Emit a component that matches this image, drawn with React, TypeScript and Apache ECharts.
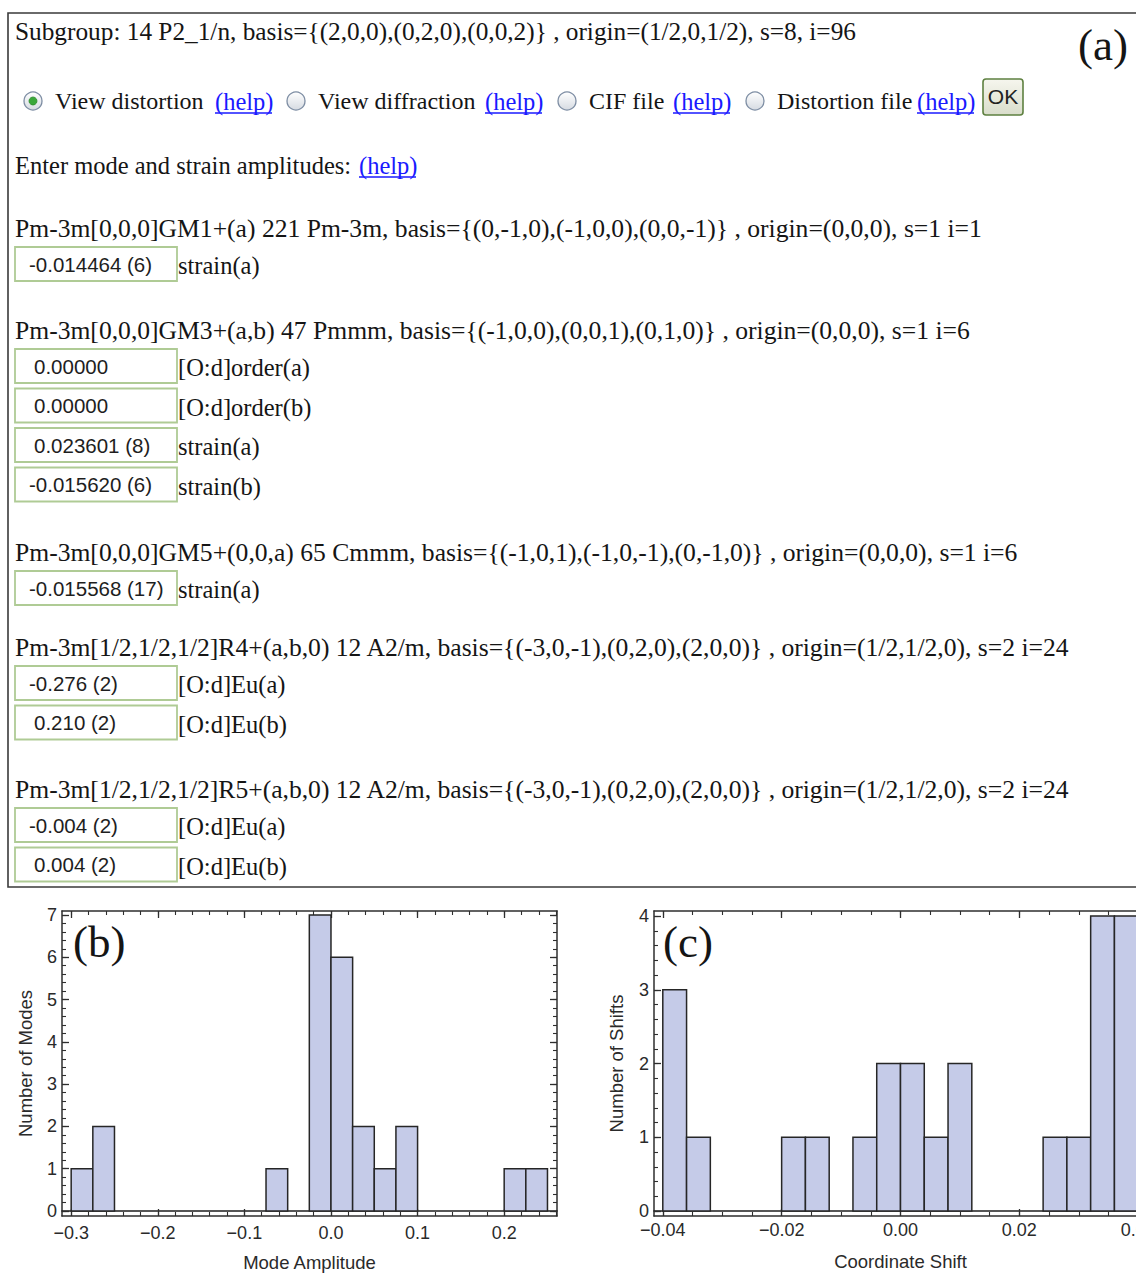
import React, { useEffect, useRef } from "react";
import * as echarts from "echarts";

// ---------------- DATA ----------------
// Panel (a) text content
const subgroupLine =
  "Subgroup: 14 P2_1/n, basis={(2,0,0),(0,2,0),(0,0,2)} , origin=(1/2,0,1/2), s=8, i=96";
const radioOptions = ["View distortion", "View diffraction", "CIF file", "Distortion file"];
const helpText = "(help)";
const enterLine = "Enter mode and strain amplitudes:";
const okText = "OK";
const irrepHeaders = [
  "Pm-3m[0,0,0]GM1+(a) 221 Pm-3m, basis={(0,-1,0),(-1,0,0),(0,0,-1)} , origin=(0,0,0), s=1 i=1",
  "Pm-3m[0,0,0]GM3+(a,b) 47 Pmmm, basis={(-1,0,0),(0,0,1),(0,1,0)} , origin=(0,0,0), s=1 i=6",
  "Pm-3m[0,0,0]GM5+(0,0,a) 65 Cmmm, basis={(-1,0,1),(-1,0,-1),(0,-1,0)} , origin=(0,0,0), s=1 i=6",
  "Pm-3m[1/2,1/2,1/2]R4+(a,b,0) 12 A2/m, basis={(-3,0,-1),(0,2,0),(2,0,0)} , origin=(1/2,1/2,0), s=2 i=24",
  "Pm-3m[1/2,1/2,1/2]R5+(a,b,0) 12 A2/m, basis={(-3,0,-1),(0,2,0),(2,0,0)} , origin=(1/2,1/2,0), s=2 i=24",
];
const irrepFieldValues = [
  ["-0.014464 (6)"],
  ["0.00000", "0.00000", "0.023601 (8)", "-0.015620 (6)"],
  ["-0.015568 (17)"],
  ["-0.276 (2)", "0.210 (2)"],
  ["-0.004 (2)", "0.004 (2)"],
];
const irrepFieldNames = [
  ["strain(a)"],
  ["[O:d]order(a)", "[O:d]order(b)", "strain(a)", "strain(b)"],
  ["strain(a)"],
  ["[O:d]Eu(a)", "[O:d]Eu(b)"],
  ["[O:d]Eu(a)", "[O:d]Eu(b)"],
];
const panelLabels = ["(a)", "(b)", "(c)"];

// Panel (b): histogram of mode amplitudes
const modeBinStarts = [-0.3, -0.275, -0.075, -0.025, 0, 0.025, 0.05, 0.075, 0.2, 0.225];
const modeCounts = [1, 2, 1, 7, 6, 2, 1, 2, 1, 1];
const modeBinWidth = 0.025;
const modeXTicks = [-0.3, -0.2, -0.1, 0, 0.1, 0.2];
const modeXTickLabels = ["\u22120.3", "\u22120.2", "\u22120.1", "0.0", "0.1", "0.2"];
const modeYTicks = [0, 1, 2, 3, 4, 5, 6, 7];
const modeYTickLabels = ["0", "1", "2", "3", "4", "5", "6", "7"];
const modeXName = "Mode Amplitude";
const modeYName = "Number of Modes";

// Panel (c): histogram of coordinate shifts
const shiftBinStarts = [-0.04, -0.036, -0.02, -0.016, -0.008, -0.004, 0, 0.004, 0.008, 0.024, 0.028, 0.032, 0.036];
const shiftCounts = [3, 1, 1, 1, 1, 2, 2, 1, 2, 1, 1, 4, 4];
const shiftBinWidth = 0.004;
const shiftXTicks = [-0.04, -0.02, 0, 0.02, 0.04];
const shiftXTickLabels = ["\u22120.04", "\u22120.02", "0.00", "0.02", "0.04"];
const shiftYTicks = [0, 1, 2, 3, 4];
const shiftYTickLabels = ["0", "1", "2", "3", "4"];
const shiftXName = "Coordinate Shift";
const shiftYName = "Number of Shifts";

// ---------------- STYLE / LAYOUT ----------------
const SERIF = '"Liberation Serif", "Times New Roman", serif';
const SANS = '"Liberation Sans", Arial, sans-serif';
const TXT = "#151515";
const LINK = "#1a1aff";
const FRAME = "#2e2e2e";
const BAR_FILL = "#c5cbe8";
const BAR_EDGE = "#262626";
const SERIF_SIZE = 24.5;
const HEADER_SIZE = 25.6;
const SUBGROUP_SIZE = 25.3;
const TICK_SIZE = 18;
const NAME_SIZE = 18.5;

function minorsOf(step: number, kFrom: number, kTo: number) {
  const out: number[] = [];
  for (let k = kFrom; k <= kTo; k++) out.push(Math.round(k * step * 1e6) / 1e6);
  return out;
}

function frameAxes(
  dim: "x" | "y",
  gridIndex: number,
  min: number,
  max: number,
  majors: number[],
  labels: string[],
  minors: number[],
  name: string,
  nameGap: number,
  labelMargin: number
) {
  const positions = dim === "x" ? ["bottom", "top"] : ["left", "right"];
  const base: any = { type: "value", gridIndex, min, max, splitLine: { show: false } };
  const fmt = (v: number) => {
    const i = majors.findIndex((t) => Math.abs(t - v) < 1e-9);
    return i >= 0 ? labels[i] : "";
  };
  const axes: any[] = [];
  positions.forEach((pos, k) => {
    axes.push({
      ...base,
      position: pos,
      name: k === 0 ? name : "",
      nameLocation: "middle",
      nameGap,
      nameRotate: dim === "y" ? 90 : 0,
      nameTextStyle: { fontFamily: SANS, fontSize: NAME_SIZE, color: "#2a2a2a" },
      axisLine: { show: true, onZero: false, lineStyle: { color: FRAME, width: 1.5 } },
      axisTick: { show: true, inside: true, length: 7, customValues: majors, lineStyle: { color: FRAME, width: 1.3 } },
      axisLabel: {
        show: k === 0,
        customValues: majors,
        formatter: fmt,
        margin: labelMargin,
        fontFamily: SANS,
        fontSize: TICK_SIZE,
        color: "#2a2a2a",
        showMinLabel: true,
        showMaxLabel: true,
      },
    });
    axes.push({
      ...base,
      position: pos,
      axisLine: { show: false, onZero: false },
      axisTick: { show: true, inside: true, length: 4, customValues: minors, lineStyle: { color: FRAME, width: 1.1 } },
      axisLabel: { show: false },
    });
  });
  return axes;
}

function zeroLineAxis(gridIndex: number, min: number, max: number) {
  return {
    type: "value",
    gridIndex,
    min,
    max,
    position: "bottom",
    splitLine: { show: false },
    axisLine: { show: true, onZero: true, lineStyle: { color: "#1e1e1e", width: 1.6 } },
    axisTick: { show: false },
    axisLabel: { show: false },
  };
}

function histRender(params: any, api: any) {
  const x0 = api.value(0);
  const x1 = api.value(1);
  const c = api.value(2);
  const pTop = api.coord([x0, c]);
  const pBot = api.coord([x1, 0]);
  return {
    type: "rect",
    shape: { x: pTop[0], y: pTop[1], width: pBot[0] - pTop[0], height: pBot[1] - pTop[1] },
    style: { fill: BAR_FILL, stroke: BAR_EDGE, lineWidth: 1.5 },
  };
}

function buildPanelA(): any[] {
  const els: any[] = [];
  const txt = (x: number, y: number, text: string, opts: any = {}) => ({
    type: "text",
    x,
    y,
    silent: true,
    style: {
      text,
      fill: opts.fill || TXT,
      fontFamily: opts.fontFamily || SERIF,
      fontSize: opts.fontSize || SERIF_SIZE,
      verticalAlign: "middle",
      align: opts.align || "left",
    },
  });
  // outer frame
  els.push({
    type: "rect",
    shape: { x: 8, y: 13, width: 1220, height: 874 },
    style: { fill: "none", stroke: "#3a3a3a", lineWidth: 1.6 },
  });
  els.push(txt(15, 31, subgroupLine, { fontSize: SUBGROUP_SIZE }));
  els.push(txt(1078, 45, panelLabels[0], { fontSize: 45 }));

  // radio row
  const rowY = 101;
  const radioX = [33, 296, 567, 755];
  const helpX = [215, 485, 673, 917];
  const helpW = 57;
  radioOptions.forEach((label, i) => {
    els.push({
      type: "circle",
      shape: { cx: radioX[i], cy: rowY, r: 9 },
      style: {
        fill: new echarts.graphic.LinearGradient(0, 0, 0, 1, [
          { offset: 0, color: "#ffffff" },
          { offset: 1, color: "#d6dbe2" },
        ]),
        stroke: "#7d8da3",
        lineWidth: 1.3,
      },
    });
    if (i === 0) {
      els.push({
        type: "circle",
        shape: { cx: radioX[i], cy: rowY, r: 4 },
        style: { fill: "#3aa83a", stroke: "#2e8b2e", lineWidth: 0.8 },
      });
    }
    els.push(txt(radioX[i] + 22, rowY, label, { fontSize: 24 }));
    els.push(txt(helpX[i], rowY, helpText, { fill: LINK }));
    els.push({
      type: "line",
      shape: { x1: helpX[i], y1: rowY + 12, x2: helpX[i] + helpW, y2: rowY + 12 },
      style: { stroke: LINK, lineWidth: 1.3 },
    });
  });
  // OK button
  els.push({
    type: "rect",
    shape: { x: 983, y: 79, width: 40, height: 36, r: 3 },
    style: {
      fill: new echarts.graphic.LinearGradient(0, 0, 0, 1, [
        { offset: 0, color: "#f6f6ee" },
        { offset: 1, color: "#d9ddcb" },
      ]),
      stroke: "#5e8040",
      lineWidth: 1.6,
    },
  });
  els.push(txt(1003, 96, okText, { fontFamily: SANS, fontSize: 21, align: "center", fill: "#222" }));

  // Enter line
  els.push(txt(15, 165, enterLine));
  els.push(txt(359, 165, helpText, { fill: LINK }));
  els.push({
    type: "line",
    shape: { x1: 359, y1: 177, x2: 359 + helpW, y2: 177 },
    style: { stroke: LINK, lineWidth: 1.3 },
  });

  // irrep groups
  const headerY = [228, 330, 552, 647, 789];
  const boxPitch = 39.5;
  const boxH = 34;
  irrepHeaders.forEach((h, g) => {
    els.push(txt(15, headerY[g], h, { fontSize: HEADER_SIZE }));
    irrepFieldValues[g].forEach((v, j) => {
      const top = headerY[g] + 19 + j * boxPitch;
      els.push({
        type: "rect",
        shape: { x: 15, y: top, width: 162, height: boxH },
        style: { fill: "#ffffff", stroke: "#afcb95", lineWidth: 1.8 },
      });
      const vx = v.startsWith("-") ? 29 : 34;
      els.push(txt(vx, top + 17, v, { fontFamily: SANS, fontSize: 20.5, fill: "#1e1e1e" }));
      els.push(txt(178, top + 18.5, irrepFieldNames[g][j]));
    });
  });

  // panel labels for (b), (c)
  els.push(txt(73, 942, panelLabels[1], { fontSize: 45 }));
  els.push(txt(663, 942, panelLabels[2], { fontSize: 45 }));
  return els;
}

// axis ranges (frame extents, with Mathematica-style padding)
const B_X = [-0.3106, 0.261];
const B_Y = [-0.1182, 7.0946];
const C_X = [-0.04148, 0.04148];
const C_Y = [-0.0678, 4.068];

function buildOption(): any {
  const xAxes = [
    ...frameAxes("x", 0, B_X[0], B_X[1], modeXTicks, modeXTickLabels, minorsOf(0.02, -15, 13), modeXName, 36.5, 8),
    zeroLineAxis(0, B_X[0], B_X[1]),
    ...frameAxes("x", 1, C_X[0], C_X[1], shiftXTicks, shiftXTickLabels, minorsOf(0.005, -8, 8), shiftXName, 35.5, 5),
    zeroLineAxis(1, C_X[0], C_X[1]),
  ];
  const yAxes = [
    ...frameAxes("y", 0, B_Y[0], B_Y[1], modeYTicks, modeYTickLabels, minorsOf(0.2, 0, 35), modeYName, 27, 5),
    ...frameAxes("y", 1, C_Y[0], C_Y[1], shiftYTicks, shiftYTickLabels, minorsOf(0.2, 0, 20), shiftYName, 28, 5),
  ];
  return {
    animation: false,
    backgroundColor: "#ffffff",
    grid: [
      { left: 62, top: 911, width: 495, height: 305, outerBoundsMode: "none", containLabel: false },
      { left: 654, top: 911, width: 493, height: 305, outerBoundsMode: "none", containLabel: false },
    ],
    xAxis: xAxes,
    yAxis: yAxes,
    series: [
      {
        type: "custom",
        name: "Mode amplitude histogram",
        xAxisIndex: 0,
        yAxisIndex: 0,
        renderItem: histRender,
        encode: { x: [0, 1], y: 2 },
        data: modeBinStarts.map((s, i) => [s, s + modeBinWidth, modeCounts[i]]),
      },
      {
        type: "custom",
        name: "Coordinate shift histogram",
        xAxisIndex: 5,
        yAxisIndex: 4,
        renderItem: histRender,
        encode: { x: [0, 1], y: 2 },
        data: shiftBinStarts.map((s, i) => [s, s + shiftBinWidth, shiftCounts[i]]),
      },
    ],
    graphic: buildPanelA(),
  };
}

export default function App() {
  const ref = useRef<HTMLDivElement>(null);
  useEffect(() => {
    if (!ref.current) return;
    const chart = echarts.init(ref.current, null, { renderer: "svg" });
    chart.setOption(buildOption());
    return () => chart.dispose();
  }, []);
  return (
    <div
      style={{
        position: "absolute",
        left: 0,
        top: 0,
        width: 1136,
        height: 1273,
        overflow: "hidden",
        background: "#ffffff",
      }}
    >
      <div ref={ref} style={{ width: 1180, height: 1273 }} />
    </div>
  );
}
